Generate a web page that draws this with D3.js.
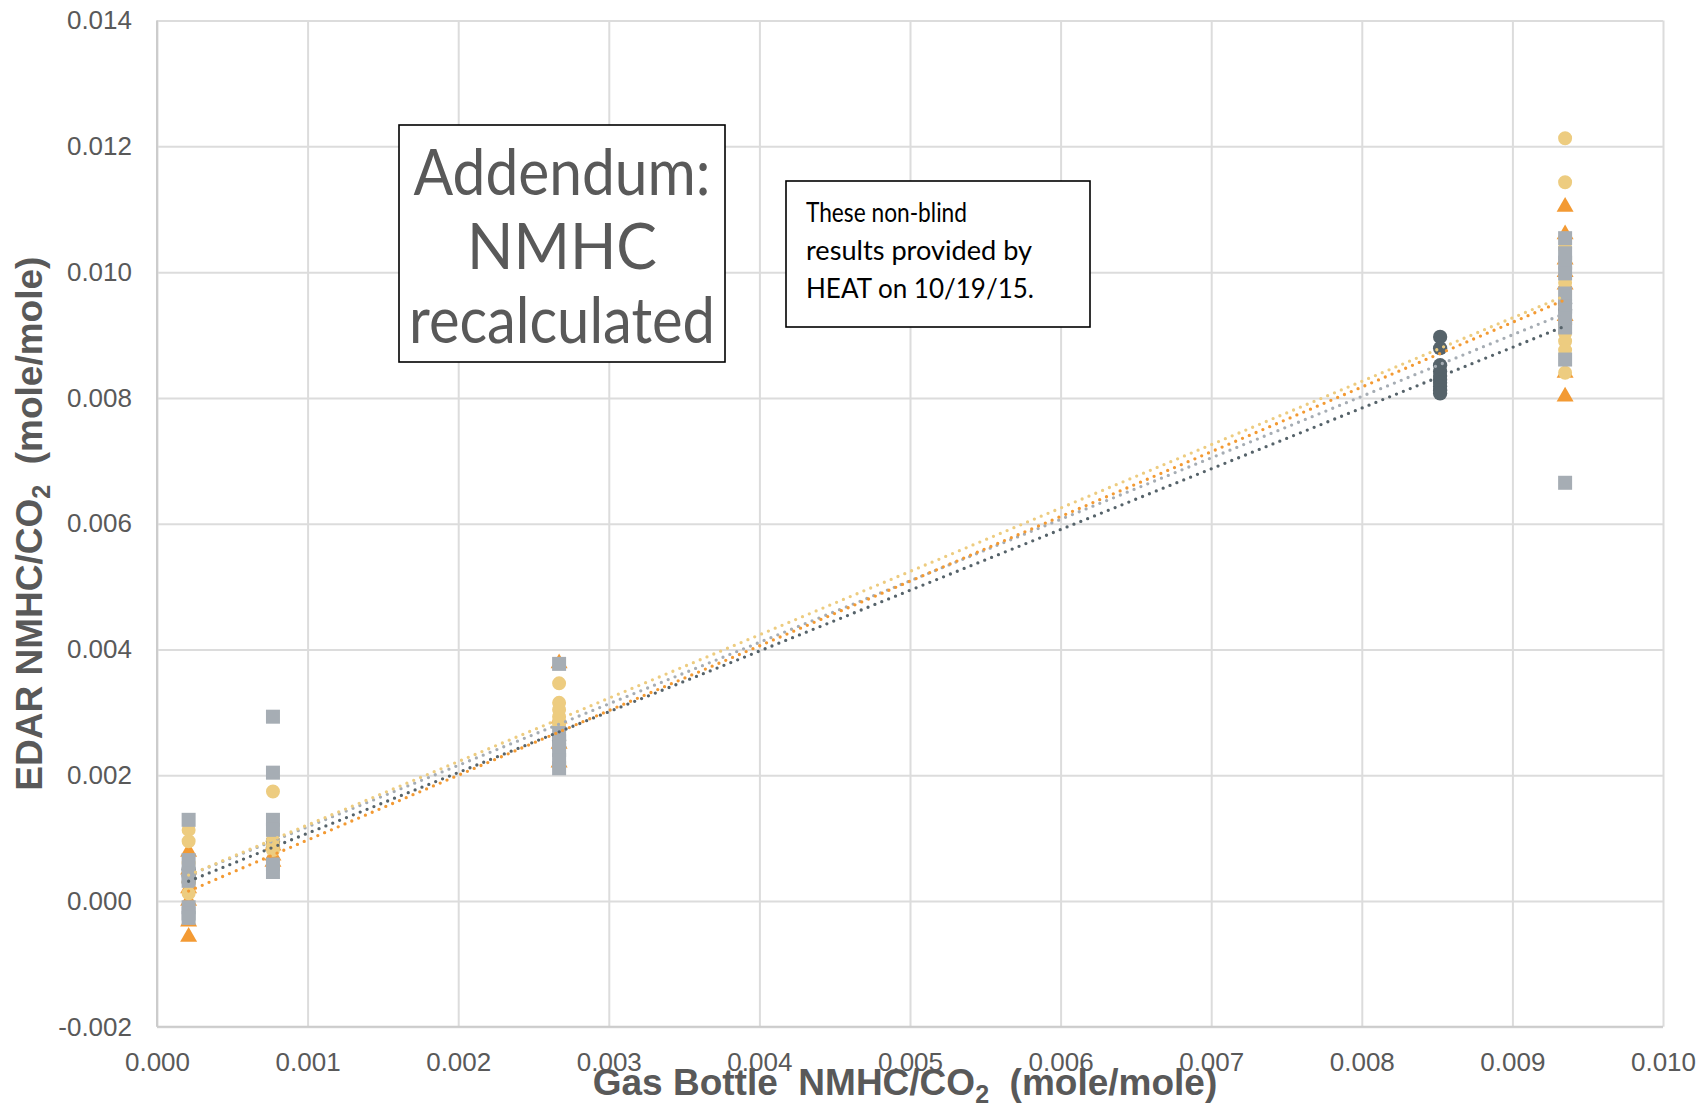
<!DOCTYPE html>
<html>
<head>
<meta charset="utf-8">
<script src="https://cdn.jsdelivr.net/npm/d3@7"></script>
<style>
  html, body { margin: 0; padding: 0; background: #fff; }
  svg { display: block; }
</style>
</head>
<body>
<svg id="chart" width="1700" height="1108"></svg>
<script>
// Gas bottle concentrations (x) for each test run group
const xDark   = [0.00021, 0.00021, 0.00021, 0.00077, 0.00077, 0.00267, 0.00267,
                 0.00852, 0.00852, 0.00852, 0.00852, 0.00852, 0.00852, 0.00852, 0.00852, 0.00852, 0.00852,
                 0.00935, 0.00935];
const yDark   = [0.00040, 0.00030, 0.00050, 0.00095, 0.00085, 0.00255, 0.00245,
                 0.00897, 0.00879, 0.00852, 0.00842, 0.00835, 0.00829, 0.00824, 0.00818, 0.00812, 0.00807,
                 0.00940, 0.00950];

const xOrange = [0.00021, 0.00021, 0.00021, 0.00021, 0.00021, 0.00021,
                 0.00077, 0.00077, 0.00077,
                 0.00267, 0.00267, 0.00267, 0.00267,
                 0.00935, 0.00935, 0.00935, 0.00935, 0.00935, 0.00935, 0.00935, 0.00935];
const yOrange = [0.00078, 0.00050, 0.00020, 0.00000, -0.00033, -0.00057,
                 0.00088, 0.00072, 0.00062,
                 0.00378, 0.00290, 0.00250, 0.00220,
                 0.01104, 0.01060, 0.01020, 0.01000, 0.00980, 0.00930, 0.00840, 0.00802];

const xYellow = [0.00021, 0.00021, 0.00021, 0.00021, 0.00021,
                 0.00077, 0.00077, 0.00077, 0.00077,
                 0.00267, 0.00267, 0.00267, 0.00267, 0.00267, 0.00267,
                 0.00935, 0.00935, 0.00935, 0.00935, 0.00935, 0.00935, 0.00935, 0.00935, 0.00935];
const yYellow = [0.00113, 0.00095, 0.00060, 0.00030, 0.00012,
                 0.00174, 0.00097, 0.00088, 0.00081,
                 0.00346, 0.00315, 0.00304, 0.00293, 0.00285, 0.00280,
                 0.01213, 0.01143, 0.01038, 0.00983, 0.00916, 0.00903, 0.00890, 0.00876, 0.00840];

const xGray   = [0.00021, 0.00021, 0.00021, 0.00021, 0.00021, 0.00021, 0.00021,
                 0.00077, 0.00077, 0.00077, 0.00077, 0.00077, 0.00077,
                 0.00267, 0.00267, 0.00267, 0.00267, 0.00267, 0.00267,
                 0.00935, 0.00935, 0.00935, 0.00935, 0.00935, 0.00935, 0.00935, 0.00935, 0.00935, 0.00935];
const yGray   = [0.00129, 0.00065, 0.00043, 0.00032, -0.00010, -0.00020, -0.00027,
                 0.00293, 0.00204, 0.00129, 0.00113, 0.00058, 0.00046,
                 0.00377, 0.00267, 0.00254, 0.00240, 0.00224, 0.00211,
                 0.01054, 0.01030, 0.01015, 0.00998, 0.00966, 0.00945, 0.00927, 0.00912, 0.00861, 0.00665];

// Linear trendline coefficients (intercept, slope) per series
const trendIntercept = [0.00011, -0.00006, 0.00020, 0.00020];
const trendSlope     = [0.966, 1.029, 1.008, 0.978];

// Axis ticks
const xTicks = [0.000, 0.001, 0.002, 0.003, 0.004, 0.005, 0.006, 0.007, 0.008, 0.009, 0.010];
const yTicks = [-0.002, 0.000, 0.002, 0.004, 0.006, 0.008, 0.010, 0.012, 0.014];

const series = [
  { xs: xDark,   ys: yDark,   color: "#56636a", shape: d3.symbolCircle,   size: 160 },
  { xs: xOrange, ys: yOrange, color: "#f39a33", shape: d3.symbolTriangle, size: 125 },
  { xs: xYellow, ys: yYellow, color: "#edcc80", shape: d3.symbolCircle,   size: 154 },
  { xs: xGray,   ys: yGray,   color: "#a6adb4", shape: d3.symbolSquare,   size: 196 }
];

const svg = d3.select("#chart");
const plotL = 157, plotR = 1663, plotT = 20.6, plotB = 1026.7;

const x = d3.scaleLinear().domain([0, 0.010]).range([plotL, plotR]);
const y = d3.scaleLinear().domain([-0.002, 0.014]).range([plotB, plotT]);
const fmt = v => d3.format(".3f")(v).replace("\u2212", "-");

// Gridlines
svg.append("g")
  .attr("transform", `translate(0,${plotB})`)
  .call(d3.axisBottom(x).tickValues(xTicks).tickSize(-(plotB - plotT)).tickFormat(""))
  .call(g => g.select(".domain").remove())
  .call(g => g.selectAll("line").attr("stroke", "#dcdcdc").attr("stroke-width", 2));
svg.append("g")
  .attr("transform", `translate(${plotL},0)`)
  .call(d3.axisLeft(y).tickValues(yTicks).tickSize(-(plotR - plotL)).tickFormat(""))
  .call(g => g.select(".domain").remove())
  .call(g => g.selectAll("line").attr("stroke", "#dcdcdc").attr("stroke-width", 2));

// Axis lines
svg.append("line").attr("x1", plotL).attr("x2", plotL).attr("y1", plotT).attr("y2", plotB)
  .attr("stroke", "#cccccc").attr("stroke-width", 2);
svg.append("line").attr("x1", plotL).attr("x2", plotR).attr("y1", plotB).attr("y2", plotB)
  .attr("stroke", "#cccccc").attr("stroke-width", 2);

// Tick labels
svg.append("g")
  .attr("transform", `translate(${plotL},0)`)
  .call(d3.axisLeft(y).tickValues(yTicks).tickSize(0).tickPadding(25).tickFormat(fmt))
  .call(g => g.select(".domain").remove())
  .call(g => g.selectAll("text")
    .attr("font-family", "'Liberation Sans', Arial, sans-serif")
    .attr("font-size", 26).attr("fill", "#595959"));
svg.append("g")
  .attr("transform", `translate(0,${plotB})`)
  .call(d3.axisBottom(x).tickValues(xTicks).tickSize(0).tickPadding(26).tickFormat(fmt))
  .call(g => g.select(".domain").remove())
  .call(g => g.selectAll("text")
    .attr("font-family", "'Liberation Sans', Arial, sans-serif")
    .attr("font-size", 26).attr("fill", "#595959"));

// Markers
series.forEach(s => {
  const pts = s.xs.map((v, i) => [v, s.ys[i]]);
  svg.append("g").selectAll("path").data(pts).join("path")
    .attr("transform", d => `translate(${x(d[0])},${y(d[1])})`)
    .attr("d", d3.symbol().type(s.shape).size(s.size))
    .attr("fill", s.color);
});

// Dotted linear trendlines over each series' x extent
const line = d3.line().x(d => x(d[0])).y(d => y(d[1]));
[0, 3, 2, 1].forEach(k => {
  const s = series[k];
  const [x0, x1] = d3.extent(s.xs);
  const pts = [x0, x1].map(v => [v, trendIntercept[k] + trendSlope[k] * v]);
  svg.append("path").datum(pts)
    .attr("d", line)
    .attr("fill", "none")
    .attr("stroke", s.color)
    .attr("stroke-width", 3.3)
    .attr("stroke-linecap", "round")
    .attr("stroke-dasharray", "0 7.4");
});

// Axis titles
const titleFont = "'Liberation Sans', Arial, sans-serif";
const xt = svg.append("text")
  .attr("x", 905).attr("y", 1095)
  .attr("text-anchor", "middle")
  .attr("font-family", titleFont).attr("font-weight", "bold")
  .attr("font-size", 37).attr("fill", "#595959");
xt.append("tspan").text("Gas Bottle\u00a0\u00a0NMHC/CO");
xt.append("tspan").attr("font-size", 25).attr("dy", 8).text("2");
xt.append("tspan").attr("dy", -8).text("\u00a0\u00a0(mole/mole)");

const yt = svg.append("text")
  .attr("transform", `translate(42,${(plotT + plotB) / 2}) rotate(-90)`)
  .attr("text-anchor", "middle")
  .attr("font-family", titleFont).attr("font-weight", "bold")
  .attr("font-size", 37).attr("fill", "#595959");
yt.append("tspan").text("EDAR NMHC/CO");
yt.append("tspan").attr("font-size", 25).attr("dy", 8).text("2");
yt.append("tspan").attr("dy", -8).text("\u00a0\u00a0(mole/mole)");

// Addendum note
const noteFont = "Lato, 'Open Sans', sans-serif";
svg.append("rect").attr("x", 399).attr("y", 125).attr("width", 326).attr("height", 237)
  .attr("fill", "#fff").attr("stroke", "#000").attr("stroke-width", 1.6);
const addLines = [["Addendum:", 195, 297], ["NMHC", 269, 190], ["recalculated", 343, 306]];
addLines.forEach(([t, by, w]) => {
  svg.append("text").attr("x", 562).attr("y", by)
    .attr("text-anchor", "middle")
    .attr("font-family", noteFont).attr("font-size", 64).attr("fill", "#595959")
    .attr("textLength", w).attr("lengthAdjust", "spacingAndGlyphs")
    .text(t);
});

// Source note
svg.append("rect").attr("x", 786).attr("y", 181).attr("width", 304).attr("height", 146)
  .attr("fill", "#fff").attr("stroke", "#000").attr("stroke-width", 1.6);
const srcLines = [["These non-blind", 222, 161], ["results provided by", 260, 226], ["HEAT on 10/19/15.", 298, 228]];
srcLines.forEach(([t, by, w]) => {
  svg.append("text").attr("x", 806).attr("y", by)
    .attr("font-family", noteFont).attr("font-size", 26).attr("fill", "#000")
    .attr("textLength", w).attr("lengthAdjust", "spacingAndGlyphs")
    .text(t);
});
</script>
</body>
</html>
